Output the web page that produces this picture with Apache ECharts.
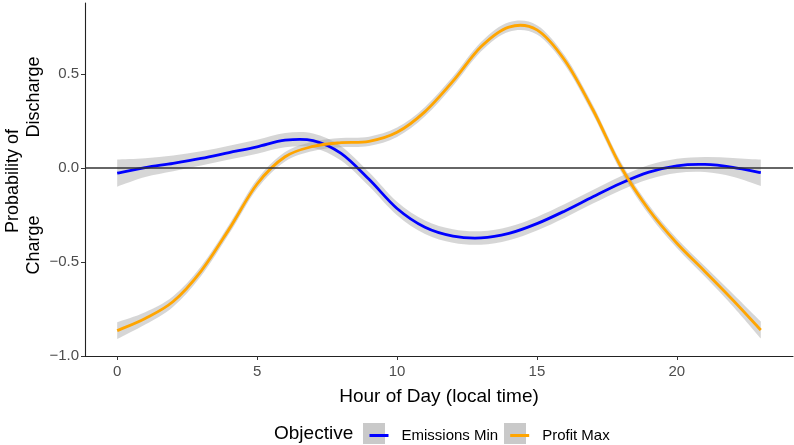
<!DOCTYPE html>
<html>
<head>
<meta charset="utf-8">
<script src="https://cdn.jsdelivr.net/npm/echarts@6/dist/echarts.min.js"></script>
<style>
  html, body { margin: 0; padding: 0; background: #fff; }
  #chart { width: 794px; height: 445px; }
</style>
</head>
<body>
<div id="chart"></div>
<script>
// hour of day, smoothed probability and band half-width per objective
var hours = [0, 1, 2, 3, 4, 5, 6, 7, 8, 9, 10, 11, 12, 13, 14, 15, 16, 17, 18, 19, 20, 21, 22, 23];
var emissionsMin = [-0.027, 0.002, 0.025, 0.051, 0.082, 0.113, 0.148, 0.146, 0.078, -0.06, -0.215, -0.315, -0.362, -0.372, -0.348, -0.296, -0.228, -0.153, -0.081, -0.022, 0.012, 0.019, 0.004, -0.025];
var emissionsSe = [0.072, 0.05, 0.042, 0.038, 0.037, 0.037, 0.038, 0.038, 0.038, 0.037, 0.036, 0.036, 0.036, 0.036, 0.036, 0.036, 0.036, 0.036, 0.037, 0.038, 0.038, 0.04, 0.05, 0.07];
var profitMax = [-0.865, -0.8, -0.71, -0.548, -0.325, -0.085, 0.06, 0.115, 0.135, 0.142, 0.19, 0.3, 0.462, 0.645, 0.75, 0.735, 0.572, 0.31, 0.007, -0.222, -0.4, -0.55, -0.702, -0.862];
var profitSe = [0.045, 0.033, 0.028, 0.026, 0.025, 0.025, 0.025, 0.025, 0.025, 0.025, 0.025, 0.025, 0.025, 0.025, 0.025, 0.025, 0.025, 0.025, 0.025, 0.025, 0.025, 0.027, 0.033, 0.045];
var xTicks = [0, 5, 10, 15, 20];
var yTicks = [-1, -0.5, 0, 0.5];

var FONT = "Liberation Sans, Arial, sans-serif";
var bandColor = "rgba(153,153,153,0.4)";

// catmull-rom through pixel points, as svg path commands
function splinePath(pts, moveFirst) {
  var d = (moveFirst ? "M" : "L") + pts[0][0] + "," + pts[0][1];
  for (var i = 0; i < pts.length - 1; i++) {
    var p0 = pts[i - 1] || pts[i];
    var p1 = pts[i];
    var p2 = pts[i + 1];
    var p3 = pts[i + 2] || p2;
    var c1x = p1[0] + (p2[0] - p0[0]) / 6, c1y = p1[1] + (p2[1] - p0[1]) / 6;
    var c2x = p2[0] - (p3[0] - p1[0]) / 6, c2y = p2[1] - (p3[1] - p1[1]) / 6;
    d += "C" + c1x + "," + c1y + " " + c2x + "," + c2y + " " + p2[0] + "," + p2[1];
  }
  return d;
}

function rows(vals, se) {
  return hours.map(function (h, i) { return [h, vals[i], se[i]]; });
}

function bandSeries(name, vals, se) {
  return {
    name: name,
    type: "custom",
    silent: true,
    z: 1,
    encode: { x: 0, y: 1 },
    data: rows(vals, se),
    renderItem: function (params, api) {
      if (params.dataIndex !== 0) return null;
      var up = hours.map(function (h, i) { return api.coord([h, vals[i] + se[i]]); });
      var lo = hours.map(function (h, i) { return api.coord([h, vals[i] - se[i]]); }).reverse();
      return {
        type: "path",
        shape: { pathData: splinePath(up, true) + splinePath(lo, false) + "Z" },
        style: { fill: bandColor, stroke: null }
      };
    }
  };
}

function lineSeries(name, vals, color) {
  return {
    name: name,
    type: "custom",
    z: 3,
    encode: { x: 0, y: 1 },
    itemStyle: { color: color },
    data: rows(vals, vals),
    renderItem: function (params, api) {
      if (params.dataIndex !== 0) return null;
      var pts = hours.map(function (h, i) { return api.coord([h, vals[i]]); });
      return {
        type: "path",
        shape: { pathData: splinePath(pts, true) },
        style: { fill: null, stroke: color, lineWidth: 2.8 }
      };
    }
  };
}

var chart = echarts.init(document.getElementById("chart"));
chart.setOption({
  animation: false,
  grid: { left: 85, right: 1, top: 3, bottom: 89 },
  xAxis: {
    type: "value",
    min: -1.15,
    max: 24.15,
    name: "Hour of Day (local time)",
    nameLocation: "middle",
    nameGap: 31,
    nameTextStyle: { color: "#000", fontSize: 19, fontFamily: FONT },
    axisLine: { onZero: false, lineStyle: { color: "#222", width: 1.1 } },
    axisTick: { show: true, customValues: xTicks, length: 4, lineStyle: { color: "#333" } },
    axisLabel: { customValues: xTicks, color: "#4d4d4d", fontSize: 15, fontFamily: FONT, margin: 8 },
    splitLine: { show: false }
  },
  yAxis: {
    type: "value",
    min: -1.0,
    max: 0.878,
    axisLine: { show: true, onZero: false, lineStyle: { color: "#222", width: 1.1 } },
    axisTick: { show: true, customValues: yTicks, length: 4, lineStyle: { color: "#333" } },
    axisLabel: {
      customValues: yTicks,
      color: "#4d4d4d",
      fontSize: 15,
      fontFamily: FONT,
      margin: 6,
      formatter: function (v) { return v.toFixed(1).replace("-", "\u2212"); }
    },
    splitLine: { show: false }
  },
  legend: {
    left: 364.5,
    top: 423,
    itemWidth: 19,
    itemHeight: 21,
    itemGap: 12,
    data: [
      { name: "Emissions Min", icon: "path://M0,0H19V3H0Z" },
      { name: "Profit Max", icon: "path://M0,0H19V3H0Z" }
    ],
    textStyle: { color: "#000", fontSize: 15, fontFamily: FONT, padding: [0, 0, 0, 8] }
  },
  graphic: [
    { type: "rect", left: 363, top: 423, z: -1, shape: { width: 22, height: 21 }, style: { fill: "#c9c9c9" } },
    { type: "rect", left: 504, top: 423, z: -1, shape: { width: 22, height: 21 }, style: { fill: "#c9c9c9" } },
    { type: "text", x: 274, y: 434, style: { text: "Objective", fontSize: 19, fontFamily: FONT, fill: "#000", textVerticalAlign: "middle" } },
    { type: "text", x: 13, y: 181, rotation: Math.PI / 2, style: { text: "Probability of", fontSize: 18, fontFamily: FONT, fill: "#000", textAlign: "center", textVerticalAlign: "middle" } },
    { type: "text", x: 34, y: 97, rotation: Math.PI / 2, style: { text: "Discharge", fontSize: 18, fontFamily: FONT, fill: "#000", textAlign: "center", textVerticalAlign: "middle" } },
    { type: "text", x: 34, y: 245, rotation: Math.PI / 2, style: { text: "Charge", fontSize: 18, fontFamily: FONT, fill: "#000", textAlign: "center", textVerticalAlign: "middle" } }
  ],
  series: [
    bandSeries("emBand", emissionsMin, emissionsSe),
    bandSeries("pmBand", profitMax, profitSe),
    {
      name: "zero",
      type: "line",
      data: [],
      silent: true,
      z: 2,
      markLine: {
        silent: true,
        symbol: "none",
        label: { show: false },
        lineStyle: { color: "#333", width: 1.5, type: "solid" },
        data: [{ yAxis: 0 }]
      }
    },
    lineSeries("Emissions Min", emissionsMin, "#0000ff"),
    lineSeries("Profit Max", profitMax, "#ffa500")
  ]
});
</script>
</body>
</html>
